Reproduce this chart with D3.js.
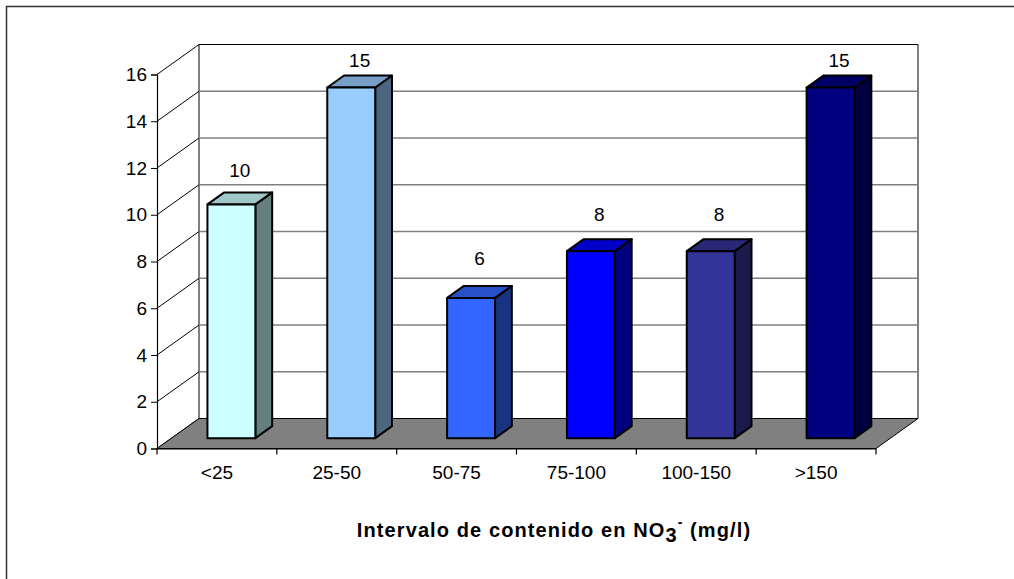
<!DOCTYPE html>
<html><head><meta charset="utf-8">
<script src="https://cdn.jsdelivr.net/npm/d3@7"></script>
<style>
body{margin:0;background:#fff;}
svg{display:block;font-family:"Liberation Sans",Arial,sans-serif;}
</style></head><body>
<svg id="c" width="1014" height="579"></svg>
<script>
const categories = ["<25","25-50","50-75","75-100","100-150",">150"];
const values = [10,15,6,8,8,15];
const barColors = ["#CCFFFF","#99CCFF","#3366FF","#0000FF","#333399","#000080"];
const yTicks = [0,2,4,6,8,10,12,14,16];
const xTitle = "Intervalo de contenido en NO";

const svg = d3.select("#c");
// outer frame
svg.append("rect").attr("x",6.5).attr("y",6.5).attr("width",1020).attr("height",600)
  .attr("fill","#fff").attr("stroke","#333").attr("stroke-width",1.5);

const DX = 42, DY = 30; // depth offsets
const x = d3.scaleBand().domain(categories).range([157,876]).padding(0);
const y = d3.scaleLinear().domain([0,16]).range([448.5,74.5]);
const yLabel = d3.scaleLinear().domain([0,16]).range([390.7,38.4]);
const P = (px, v, d) => [px + d*DX, y(v) - d*DY];

const g = svg.append("g");
const x0 = x.range()[0], x1 = x.range()[1];
// back wall
g.append("path").attr("d", d3.line()([P(x0,0,1),P(x0,16,1),P(x1,16,1),P(x1,0,1)]) + "Z")
  .attr("fill","#fff").attr("stroke","#000").attr("stroke-width",1);
// gridlines on back wall
g.selectAll(".grid").data(yTicks.filter(t=>t>0 && t<16)).join("line")
  .attr("x1",P(x0,0,1)[0]).attr("x2",P(x1,0,1)[0])
  .attr("y1",t=>P(x0,t,1)[1]).attr("y2",t=>P(x0,t,1)[1])
  .attr("stroke","#808080").attr("stroke-width",1.3);
// left side wall diagonals
g.selectAll(".diag").data(yTicks).join("line")
  .attr("x1",t=>P(x0,t,0)[0]).attr("y1",t=>P(x0,t,0)[1])
  .attr("x2",t=>P(x0,t,1)[0]).attr("y2",t=>P(x0,t,1)[1])
  .attr("stroke","#000").attr("stroke-width",1);
// floor
g.append("path").attr("d", d3.line()([P(x0,0,0),P(x1,0,0),P(x1,0,1),P(x0,0,1)]) + "Z")
  .attr("fill","#808080").attr("stroke","#000").attr("stroke-width",1);

// y axis
const ya = g.append("g").attr("transform",`translate(${x0},0)`)
  .call(d3.axisLeft(y).tickValues(yTicks).tickSize(6).tickPadding(4).tickFormat(d3.format("d")));
ya.select(".domain").attr("stroke","#000").attr("stroke-width",1.2);
ya.selectAll(".tick line").attr("stroke","#000");
ya.selectAll(".tick text").attr("font-size",19).attr("fill","#000")
  .attr("font-family","Liberation Sans, Arial, sans-serif");

// x axis
const xa = g.append("g").attr("transform",`translate(0,${y(0)})`)
  .call(d3.axisBottom(x).tickSize(0).tickPadding(17));
xa.select(".domain").attr("stroke","#000").attr("stroke-width",1.2);
xa.selectAll(".tick text").attr("font-size",19).attr("fill","#000")
  .attr("font-family","Liberation Sans, Arial, sans-serif");
g.selectAll(".xb").data(categories.map(c=>x(c)).concat([x1])).join("line")
  .attr("x1",d=>d).attr("x2",d=>d).attr("y1",y(0)).attr("y2",y(0)+6)
  .attr("stroke","#000").attr("stroke-width",1.2);

// bars
const bw = x.bandwidth()*0.4;
const d1 = 0.345, d2 = 0.745;
const shade = (c,k)=>{const r=d3.rgb(c);return d3.rgb(r.r*k,r.g*k,r.b*k).formatHex();};
const bars = g.selectAll(".bar").data(values.map((v,i)=>({v,i,c:categories[i]}))).join("g");
bars.each(function(d){
  const s = d3.select(this);
  const xl = x(d.c) + (x.bandwidth()-bw)/2, xr = xl + bw;
  const fbl=P(xl,0,d1), fbr=P(xr,0,d1), ftl=P(xl,d.v,d1), ftr=P(xr,d.v,d1);
  const btl=P(xl,d.v,d2), btr=P(xr,d.v,d2), bbr=P(xr,0,d2);
  const col = barColors[d.i];
  const line = d3.line();
  s.append("path").attr("d",line([fbr,ftr,btr,bbr])+"Z").attr("fill",shade(col,0.5));
  s.append("path").attr("d",line([ftl,btl,btr,ftr])+"Z").attr("fill",shade(col,0.78));
  s.append("path").attr("d",line([fbl,ftl,ftr,fbr])+"Z").attr("fill",col);
  s.selectAll("path").attr("stroke","#000").attr("stroke-width",2).attr("stroke-linejoin","round");
  const tcx = P((xl+xr)/2, d.v, (d1+d2)/2)[0];
  s.append("text").attr("x",tcx).attr("y",yLabel(d.v)).attr("dy","0.36em").attr("text-anchor","middle")
    .attr("font-size",19).attr("fill","#000").text(d.v);
});

// axis title
const t = svg.append("text").attr("x",554).attr("y",537).attr("text-anchor","middle")
  .attr("font-size",20).attr("font-weight","bold").attr("fill","#000").attr("letter-spacing",1.1);
t.append("tspan").text(xTitle);
t.append("tspan").attr("dy",5).text("3");
t.append("tspan").attr("dy",-15).attr("font-size",14).text("-");
t.append("tspan").attr("dy",10).text(" (mg/l)");
</script></body></html>
